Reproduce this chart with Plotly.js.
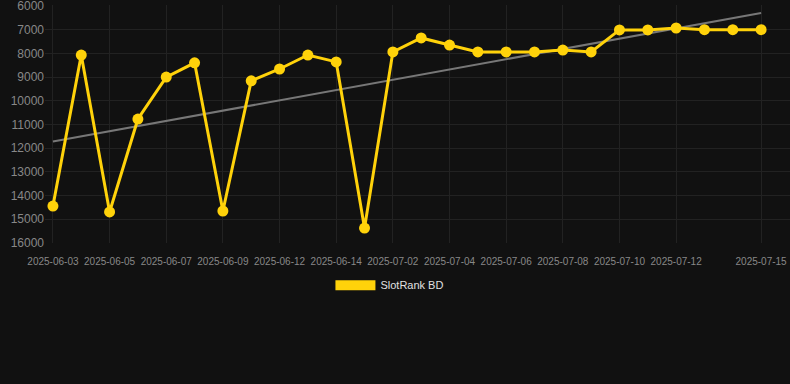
<!DOCTYPE html>
<html>
<head>
<meta charset="utf-8">
<script src="https://cdn.plot.ly/plotly-3.0.1.min.js"></script>
<style>html,body{margin:0;padding:0;background:#111111;}#chart{width:790px;height:384px;}</style>
</head>
<body>
<div id="chart"></div>
<script>
const dates = ["2025-06-03","2025-06-04","2025-06-05","2025-06-06","2025-06-07","2025-06-08","2025-06-09","2025-06-11","2025-06-12","2025-06-13","2025-06-14","2025-06-15","2025-07-02","2025-07-03","2025-07-04","2025-07-05","2025-07-06","2025-07-07","2025-07-08","2025-07-09","2025-07-10","2025-07-11","2025-07-12","2025-07-13","2025-07-14","2025-07-15"];
const ranks = [14440,8070,14690,10770,9000,8400,14650,9160,8660,8070,8360,15370,7940,7350,7650,7940,7940,7940,7860,7940,7010,7010,6930,7000,7000,7000];
const tickDates = ["2025-06-03","2025-06-05","2025-06-07","2025-06-09","2025-06-12","2025-06-14","2025-07-02","2025-07-04","2025-07-06","2025-07-08","2025-07-10","2025-07-12","2025-07-15"];
const yTicks = [6000,7000,8000,9000,10000,11000,12000,13000,14000,15000,16000];
const seriesName = "SlotRank BD";

// linear regression trend
const n = ranks.length;
const mx = (n - 1) / 2;
const my = ranks.reduce((a, b) => a + b, 0) / n;
let sxy = 0, sxx = 0;
ranks.forEach((v, i) => { sxy += (i - mx) * (v - my); sxx += (i - mx) * (i - mx); });
const slope = sxy / sxx;
const icpt = my - slope * mx;
const trendX = [dates[0], dates[n - 1]];
const trendY = [icpt, icpt + slope * (n - 1)];

const gold = "#FFD20A";
const traces = [
  {x: trendX, y: trendY, type: "scatter", mode: "lines", line: {color: "#777777", width: 2}, showlegend: false, hoverinfo: "skip", cliponaxis: false},
  {x: dates, y: ranks, type: "scatter", mode: "lines+markers", line: {color: gold, width: 3}, marker: {color: gold, size: 11}, showlegend: false, cliponaxis: false},
  {x: [null], y: [null], type: "scatter", mode: "lines", name: seriesName, line: {color: gold, width: 12}, showlegend: true}
];

const layout = {
  width: 790, height: 384,
  paper_bgcolor: "#111111", plot_bgcolor: "#111111",
  margin: {l: 45, r: 0, t: 5, b: 141, autoexpand: false},
  font: {family: "Liberation Sans, Arial, sans-serif", color: "#888888"},
  xaxis: {type: "category", categoryorder: "array", categoryarray: dates, range: [-0.28, 26.02],
          tickmode: "array", tickvals: tickDates, ticktext: tickDates, tickangle: 0, automargin: false,
          tickfont: {size: 10, color: "#888888"}, gridcolor: "#222222", showline: false, zeroline: false,
          ticks: "outside", ticklen: 9, tickcolor: "rgba(0,0,0,0)"},
  yaxis: {range: [16000, 5960], tickmode: "array", tickvals: yTicks, ticktext: yTicks.map(String), automargin: false,
          ticklabeloverflow: "allow",
          tickfont: {size: 12, color: "#888888"}, gridcolor: "#222222", zeroline: false, showline: false, ticks: ""},
  legend: {orientation: "h", x: 0.463, xanchor: "center", y: -0.177, yanchor: "middle",
           font: {size: 11, color: "#e0e0e0"}, itemwidth: 40, bgcolor: "rgba(0,0,0,0)"},
  showlegend: true
};
Plotly.newPlot("chart", traces, layout, {displayModeBar: false, staticPlot: true});
</script>
</body>
</html>
